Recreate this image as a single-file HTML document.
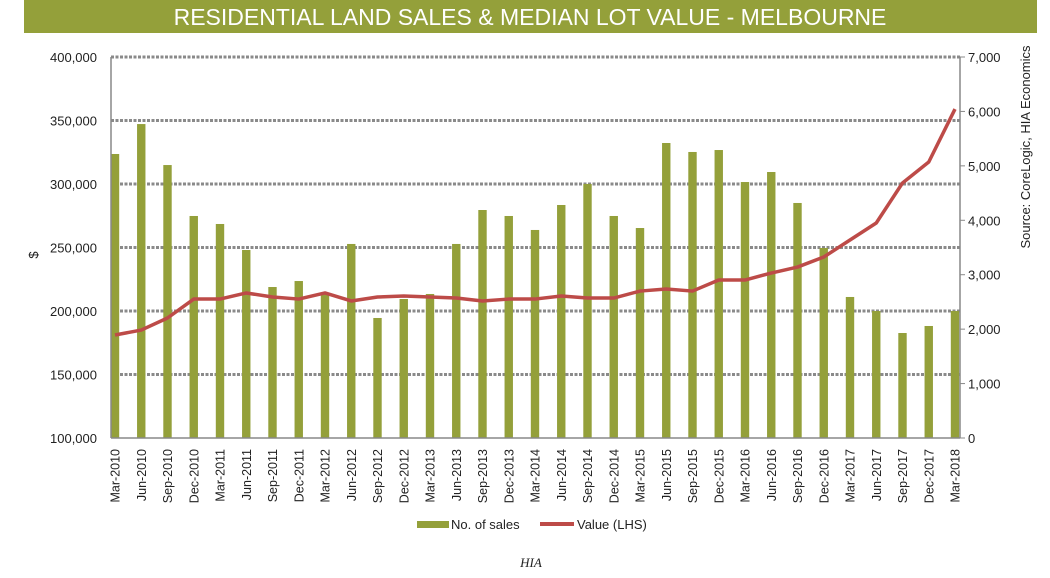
<!DOCTYPE html>
<html><head><meta charset="utf-8"><style>
html,body{margin:0;padding:0;background:#fff;}
svg{display:block;font-family:"Liberation Sans",sans-serif;}
</style></head><body>
<svg id="chart" width="1050" height="578" viewBox="0 0 1050 578">
<rect x="24" y="0" width="1013" height="33" fill="#94a03a"/>
<text x="530" y="25" text-anchor="middle" fill="#fff" font-size="23">RESIDENTIAL LAND SALES &amp; MEDIAN LOT VALUE - MELBOURNE</text>
<g id="grid"></g>
<g id="bars"></g>
<g id="axes"></g>
<g id="line"></g>
<g id="labels"></g>
<text transform="translate(38,255) rotate(-90)" text-anchor="middle" font-size="13" fill="#222">$</text>
<text transform="translate(1030,147) rotate(-90)" text-anchor="middle" font-size="13" fill="#222">Source: CoreLogic, HIA Economics</text>
<g>
<rect x="417" y="521" width="32" height="7" fill="#94a03a"/>
<text x="451" y="529" font-size="13" fill="#222">No. of sales</text>
<line x1="540" y1="524" x2="574" y2="524" stroke="#bd4b48" stroke-width="4"/>
<text x="577" y="529" font-size="13" fill="#222">Value (LHS)</text>
</g>
<text x="531" y="567" text-anchor="middle" font-family="Liberation Serif,serif" font-style="italic" font-size="13" fill="#222">HIA</text>
</svg>
<script>
const categories=["Mar-2010","Jun-2010","Sep-2010","Dec-2010","Mar-2011","Jun-2011","Sep-2011","Dec-2011","Mar-2012","Jun-2012","Sep-2012","Dec-2012","Mar-2013","Jun-2013","Sep-2013","Dec-2013","Mar-2014","Jun-2014","Sep-2014","Dec-2014","Mar-2015","Jun-2015","Sep-2015","Dec-2015","Mar-2016","Jun-2016","Sep-2016","Dec-2016","Mar-2017","Jun-2017","Sep-2017","Dec-2017","Mar-2018"];
const salesValues=[5218,5768,5015,4079,3932,3454,2774,2884,2664,3565,2205,2554,2646,3565,4189,4079,3822,4281,4667,4079,3858,5420,5255,5291,4703,4887,4318,3491,2591,2333,1929,2058,2333];
const lotValues=[181100,185000,194500,209400,209400,214200,211000,209400,214200,207900,211000,211800,211000,210200,207900,209400,209400,211800,210200,210200,215700,217300,215700,224400,224400,229900,234600,242500,255900,269300,300800,317300,359000];
const leftTicks=[100000,150000,200000,250000,300000,350000,400000];
const rightTicks=[0,1000,2000,3000,4000,5000,6000,7000];

const NS="http://www.w3.org/2000/svg";
const X0=111,X1=960,YT=57,YB=438;
const yL=v=>YB-(v-100000)/300000*(YB-YT);
const yR=v=>YB-v/7000*(YB-YT);
const xC=i=>115+i*(955-115)/(categories.length-1);
function mk(tag,attrs,parent,txt){const e=document.createElementNS(NS,tag);for(const k in attrs)e.setAttribute(k,attrs[k]);if(txt!==undefined)e.textContent=txt;document.getElementById(parent).appendChild(e);return e;}
const fmt=v=>v.toLocaleString('en-US');

leftTicks.forEach(t=>{
  if(t>100000){const g=mk('line',{x1:X0,x2:X1,y1:yL(t),y2:yL(t),stroke:'#8a8a8a','stroke-width':3,'stroke-dasharray':'3 1.5'},'grid');
  
  }
  const l=mk('text',{x:97,y:yL(t)+5,'text-anchor':'end','font-size':13,fill:'#222'},'labels',fmt(t));
  
  
});
rightTicks.forEach(t=>{
  const k=mk('line',{x1:X1,x2:X1+5,y1:yR(t),y2:yR(t),stroke:'#888','stroke-width':1},'axes');
  
  
  const l=mk('text',{x:968,y:yR(t)+5,'font-size':13,fill:'#222'},'labels',fmt(t));
  
  
});
salesValues.forEach((v,i)=>{
  const b=mk('rect',{x:xC(i)-4.2,y:yR(v),width:8.4,height:YB-yR(v),fill:'#94a03a'},'bars');
  
  
});
categories.forEach((c,i)=>{
  const l=mk('text',{transform:`translate(${xC(i)+4.5},449) rotate(-90)`,'text-anchor':'end','font-size':12.5,fill:'#222'},'labels',c);
  
  
});
const a1=mk('line',{x1:X0,x2:X0,y1:YT,y2:YB,stroke:'#888','stroke-width':1.5},'axes');


const a2=mk('line',{x1:X1,x2:X1,y1:YT,y2:YB,stroke:'#888','stroke-width':1.5},'axes');


const a3=mk('line',{x1:X0,x2:X1,y1:YB,y2:YB,stroke:'#888','stroke-width':1.5},'axes');


const pl=mk('polyline',{points:lotValues.map((v,i)=>xC(i)+','+yL(v)).join(' '),fill:'none',stroke:'#bd4b48','stroke-width':3.5,'stroke-linejoin':'round'},'line');


</script>
</body></html>
